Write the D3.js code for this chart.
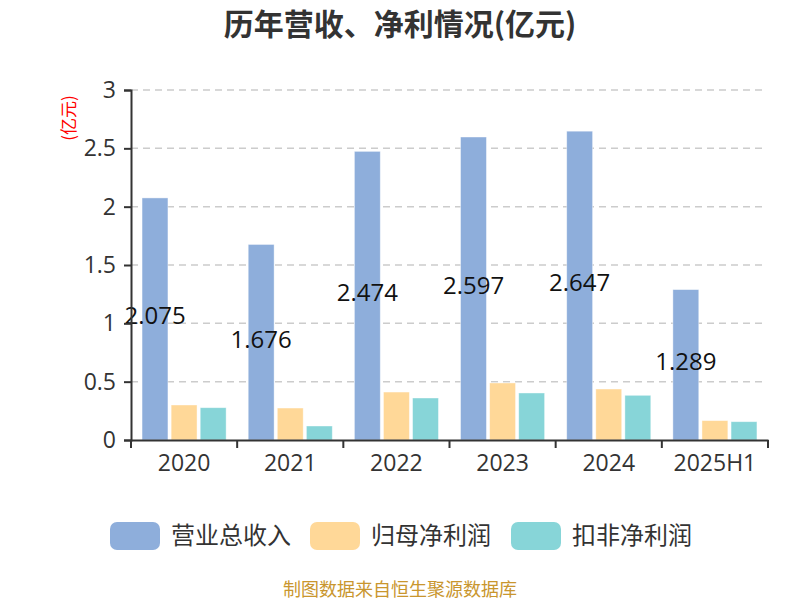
<!DOCTYPE html>
<html>
<head>
<meta charset="utf-8">
<script src="https://cdn.jsdelivr.net/npm/d3@7"></script>
<style>
  body { margin: 0; background: #fff; }
  text { font-family: "Noto Sans CJK SC", "Open Sans", sans-serif; }
</style>
</head>
<body>
<div id="chart"></div>
<script>
// data (亿元)
const years   = ['2020', '2021', '2022', '2023', '2024', '2025H1'];
const revenue = [2.075, 1.676, 2.474, 2.597, 2.647, 1.289];
const netProfit = [0.30, 0.274, 0.411, 0.489, 0.437, 0.166];
const deductedProfit = [0.277, 0.12, 0.36, 0.403, 0.383, 0.157];
const seriesNames = ['营业总收入', '归母净利润', '扣非净利润'];
const colors = ['#8EAEDB', '#FFD898', '#87D5D8'];
const yTicks = [0, 0.5, 1, 1.5, 2, 2.5, 3];

const W = 800, H = 600;
const margin = { left: 131, right: 32, top: 90, bottom: 160 };

const svg = d3.select('#chart').append('svg')
  .attr('width', W).attr('height', H);

const x = d3.scaleBand().domain(years)
  .range([margin.left, W - margin.right]).paddingInner(0).paddingOuter(0);
const y = d3.scaleLinear().domain([0, 3]).range([H - margin.bottom, margin.top]);
const xs = d3.scaleBand().domain(d3.range(3))
  .range([0, x.bandwidth()]).paddingInner(0.11).paddingOuter(0.38);

// title
svg.append('text')
  .attr('x', W / 2).attr('y', 35)
  .attr('text-anchor', 'middle')
  .attr('font-size', 30).attr('font-weight', 'bold').attr('fill', '#333')
  .text('历年营收、净利情况(亿元)');

// unit label
svg.append('text')
  .attr('transform', `translate(75,118) rotate(-90)`)
  .attr('text-anchor', 'middle')
  .attr('font-size', 17).attr('fill', '#f00')
  .text('(亿元)');

// gridlines
svg.append('g').selectAll('line')
  .data(yTicks.filter(d => d > 0))
  .join('line')
  .attr('x1', margin.left).attr('x2', W - margin.right - 3)
  .attr('y1', d => y(d)).attr('y2', d => y(d))
  .attr('stroke', '#ccc').attr('stroke-width', 1.5).attr('stroke-dasharray', '7,5');

// bars
const table = years.map((yr, i) => ({ yr, vals: [revenue[i], netProfit[i], deductedProfit[i]] }));
const groups = svg.append('g').selectAll('g')
  .data(table).join('g')
  .attr('transform', d => `translate(${x(d.yr)},0)`);

groups.selectAll('rect')
  .data(d => d.vals.map((v, k) => ({ v, k })))
  .join('rect')
  .attr('x', d => xs(d.k))
  .attr('width', xs.bandwidth())
  .attr('y', d => y(d.v))
  .attr('height', d => y(0) - y(d.v))
  .attr('fill', d => colors[d.k])
  .attr('stroke', '#fff').attr('stroke-opacity', 0.5).attr('stroke-width', 0.8);

// revenue labels in bar middle
groups.append('text')
  .attr('x', xs(0) + xs.bandwidth() / 2)
  .attr('y', d => (y(d.vals[0]) + y(0)) / 2 - 3)
  .attr('dy', '0.35em')
  .attr('text-anchor', 'middle')
  .attr('font-size', 24).attr('fill', '#111')
  .style('font-family', '"Open Sans", sans-serif')
  .text(d => d3.format('.3f')(d.vals[0]));

// y axis
const yAxis = svg.append('g')
  .attr('transform', `translate(${margin.left},0)`)
  .call(d3.axisLeft(y).tickValues(yTicks).tickFormat(d3.format('')).tickSize(7).tickPadding(8));
yAxis.select('.domain').attr('stroke', '#333').attr('stroke-width', 2);
yAxis.selectAll('.tick line').attr('stroke', '#333').attr('stroke-width', 2);
yAxis.selectAll('text').attr('font-size', 23).attr('fill', '#333')
  .style('font-family', '"Open Sans", sans-serif');

// x axis
const xAxis = svg.append('g')
  .attr('transform', `translate(0,${y(0)})`)
  .call(d3.axisBottom(x).tickSize(0).tickPadding(15));
xAxis.select('.domain').attr('stroke', '#333').attr('stroke-width', 2);
xAxis.selectAll('text').attr('font-size', 23).attr('fill', '#333')
  .style('font-family', '"Open Sans", sans-serif');
xAxis.append('g').selectAll('line')
  .data(years.map(yr => x(yr)).concat([x(years[years.length - 1]) + x.bandwidth()]))
  .join('line')
  .attr('x1', d => d).attr('x2', d => d)
  .attr('y1', 0).attr('y2', 8)
  .attr('stroke', '#333').attr('stroke-width', 2);

// legend
const legendX = [110, 310, 511];
const legend = svg.append('g').selectAll('g')
  .data(seriesNames).join('g')
  .attr('transform', (d, i) => `translate(${legendX[i]},522)`);
legend.append('rect')
  .attr('width', 50).attr('height', 28).attr('rx', 7)
  .attr('fill', (d, i) => colors[i]);
legend.append('text')
  .attr('x', 61).attr('y', 14).attr('dy', '0.35em')
  .attr('font-size', 24).attr('fill', '#333')
  .text(d => d);

// footer
svg.append('text')
  .attr('x', W / 2).attr('y', 596)
  .attr('text-anchor', 'middle')
  .attr('font-size', 18).attr('fill', '#C9962E')
  .text('制图数据来自恒生聚源数据库');
</script>
</body>
</html>
